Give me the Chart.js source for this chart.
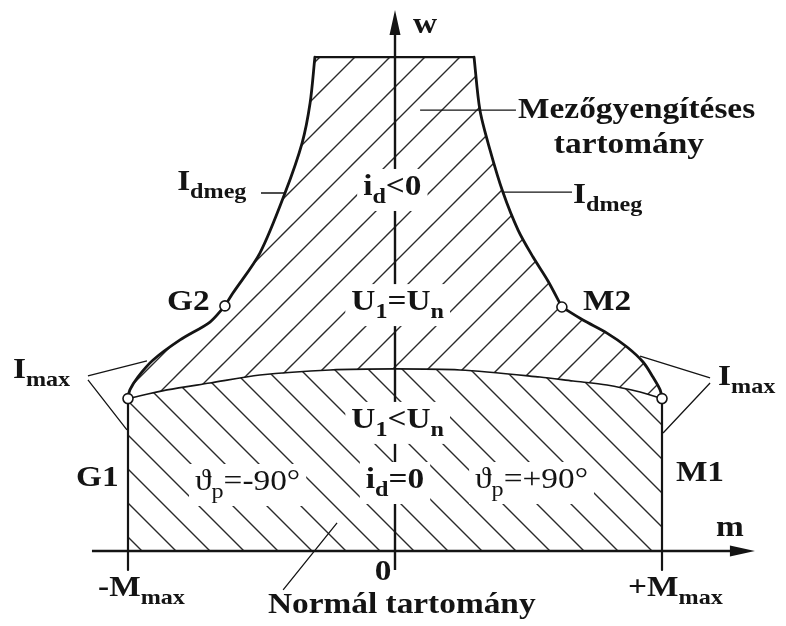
<!DOCTYPE html>
<html>
<head>
<meta charset="utf-8">
<script src="https://cdn.jsdelivr.net/npm/chart.js@4.4.1/dist/chart.umd.min.js"></script>
<style>
  html, body { margin: 0; padding: 0; background: #fff; }
  canvas { display: block; }
</style>
</head>
<body>
<canvas id="c" width="786" height="626"></canvas>
<script>
// Operating region of the drive: torque m in units of Mmax, speed w in units of base speed.

// upper limit (maximum speed)
const topEdge = [{x: -0.300, y: 2.729}, {x: 0.296, y: 2.729}];
// field-weakening current limit, left side (top -> G2)
const idmegLeft = [
  {x: -0.300, y: 2.729}, {x: -0.318, y: 2.475}, {x: -0.348, y: 2.254},
  {x: -0.412, y: 1.978}, {x: -0.506, y: 1.646}, {x: -0.607, y: 1.425},
  {x: -0.637, y: 1.354}
];
// maximum current limit, left side (G2 -> G1)
const imaxLeft = [
  {x: -0.637, y: 1.354}, {x: -0.693, y: 1.265}, {x: -0.805, y: 1.166},
  {x: -0.906, y: 1.055}, {x: -0.963, y: 0.961}, {x: -0.993, y: 0.890},
  {x: -1.000, y: 0.842}
];
// field-weakening current limit, right side (top -> M2)
const idmegRight = [
  {x: 0.296, y: 2.729}, {x: 0.318, y: 2.436}, {x: 0.356, y: 2.215},
  {x: 0.404, y: 1.983}, {x: 0.461, y: 1.773}, {x: 0.517, y: 1.624},
  {x: 0.573, y: 1.492}, {x: 0.625, y: 1.348}
];
// maximum current limit, right side (M2 -> M1)
const imaxRight = [
  {x: 0.625, y: 1.348}, {x: 0.704, y: 1.276}, {x: 0.794, y: 1.204},
  {x: 0.869, y: 1.127}, {x: 0.929, y: 1.044}, {x: 0.966, y: 0.961},
  {x: 0.993, y: 0.890}, {x: 1.000, y: 0.842}
];
// U1 = Un boundary between the two regions (G1 -> M1)
const voltageArch = [
  {x: -1.000, y: 0.842}, {x: -0.854, y: 0.890}, {x: -0.693, y: 0.928},
  {x: -0.506, y: 0.972}, {x: -0.243, y: 1.000}, {x: 0.000, y: 1.006},
  {x: 0.243, y: 1.000}, {x: 0.543, y: 0.961}, {x: 0.667, y: 0.939},
  {x: 0.794, y: 0.917}, {x: 0.918, y: 0.878}, {x: 1.000, y: 0.842}
];
// torque limits ±Mmax below the corner points
const sideLeft = [{x: -1, y: 0.842}, {x: -1, y: -0.105}];
const sideRight = [{x: 1, y: 0.842}, {x: 1, y: -0.105}];
const baseEdge = [{x: 1, y: 0}, {x: -1, y: 0}];
// corner points G1, G2, M2, M1
const cornerPoints = [
  {x: -1.000, y: 0.842}, {x: -0.637, y: 1.354},
  {x: 0.625, y: 1.348}, {x: 1.000, y: 0.842}
];

// closed outlines of the hatched regions
const weakeningRegion = [].concat(
  topEdge, idmegRight.slice(1), imaxRight.slice(1),
  voltageArch.slice().reverse().slice(1), imaxLeft.slice().reverse().slice(1),
  idmegLeft.slice().reverse().slice(1, -1)
);
const normalRegion = [].concat(voltageArch, baseEdge);

// annotation text: each entry is a list of [text, isSubscript] runs
const labels = [
  {p: [['w']], m: 0.067, w: 2.862},
  {p: [['m']], m: 1.202, w: 0.083},
  {p: [['0']], m: -0.045, w: -0.160, align: 'center'},
  {p: [['-M'], ['max', 1]], m: -1.112, w: -0.249},
  {p: [['+M'], ['max', 1]], m: 0.873, w: -0.249},
  {p: [['Normál tartomány']], m: -0.476, w: -0.343},
  {p: [['G1']], m: -1.195, w: 0.359},
  {p: [['M1']], m: 1.052, w: 0.387},
  {p: [['G2']], m: -0.854, w: 1.331},
  {p: [['M2']], m: 0.704, w: 1.331},
  {p: [['I'], ['max', 1]], m: -1.431, w: 0.956},
  {p: [['I'], ['max', 1]], m: 1.210, w: 0.917},
  {p: [['I'], ['dmeg', 1]], m: -0.816, w: 1.994},
  {p: [['I'], ['dmeg', 1]], m: 0.667, w: 1.923},
  {p: [['Mezőgyengítéses']], m: 0.461, w: 2.392},
  {p: [['tartomány']], m: 0.876, w: 2.199, align: 'center'},
  {p: [['i'], ['d', 1], ['<0']], m: -0.01, w: 1.967, align: 'center', bg: true},
  {p: [['U'], ['1', 1], ['=U'], ['n', 1]], m: 0.01, w: 1.331, align: 'center', bg: true},
  {p: [['U'], ['1', 1], ['<U'], ['n', 1]], m: 0.01, w: 0.680, align: 'center', bg: true},
  {p: [['i'], ['d', 1], ['=0']], m: 0.0, w: 0.348, align: 'center', bg: true},
  {p: [['ϑ'], ['p', 1], ['=-90°']], m: -0.749, w: 0.337, weight: 'normal', bg: true},
  {p: [['ϑ'], ['p', 1], ['=+90°']], m: 0.300, w: 0.348, weight: 'normal', bg: true}
];

// leader lines from labels to the curves
const leaders = [
  [[0.094, 2.436], [0.453, 2.436]],
  [[-0.419, -0.215], [-0.217, 0.155]],
  [[-1.150, 0.967], [-0.929, 1.050]],
  [[-1.150, 0.945], [-1.004, 0.669]],
  [[1.180, 0.956], [0.918, 1.077]],
  [[1.180, 0.928], [1.004, 0.652]],
  [[-0.502, 1.978], [-0.412, 1.978]],
  [[0.404, 1.983], [0.663, 1.983]]
];

// axes: m from left end to arrow tip, w from below the origin to arrow tip
const mAxis = {from: -1.135, to: 1.348};
const wAxis = {from: -0.105, to: 2.989};

const INK = '#141414';
const FONT = "'Liberation Serif', 'Times New Roman', 'DejaVu Serif', serif";
const MAIN_PX = 29, SUB_PX = 21, SUB_DROP = 8, STRETCH = 1.15;

function hatch(size, rising, offset) {
  const c = document.createElement('canvas');
  c.width = size; c.height = size;
  const g = c.getContext('2d');
  g.strokeStyle = '#2a2a2a';
  g.lineWidth = 1.4;
  g.beginPath();
  for (let k = -3; k <= 3; k++) {
    const c0 = offset + k * size;
    if (rising) { g.moveTo(c0 + size, -size); g.lineTo(c0 - 2 * size, 2 * size); }
    else { g.moveTo(c0 - size, -size); g.lineTo(c0 + 2 * size, 2 * size); }
  }
  g.stroke();
  return g.createPattern(c, 'repeat');
}
const ctx0 = document.getElementById('c').getContext('2d');
const risingHatch = hatch(35, true, 27);
const fallingHatch = hatch(34, false, 33);

function outline(data, width, tension) {
  return {data, borderColor: INK, borderWidth: width, pointRadius: 0,
          tension, fill: false, order: 1, borderCapStyle: 'round', borderJoinStyle: 'round'};
}

const annotations = {
  id: 'annotations',
  afterDatasetsDraw(chart) {
    const ctx = chart.ctx;
    const xs = chart.scales.x, ys = chart.scales.y;
    const px = v => xs.getPixelForValue(v), py = v => ys.getPixelForValue(v);
    ctx.save();
    ctx.strokeStyle = INK;
    ctx.fillStyle = INK;
    // axes
    ctx.lineWidth = 2.4;
    const x0 = px(0), y0 = py(0);
    const hx = px(mAxis.to), vy = py(wAxis.to);
    ctx.beginPath();
    ctx.moveTo(px(mAxis.from), y0); ctx.lineTo(hx - 22, y0);
    ctx.moveTo(x0, py(wAxis.from)); ctx.lineTo(x0, vy + 22);
    ctx.stroke();
    ctx.beginPath();
    ctx.moveTo(hx, y0); ctx.lineTo(hx - 25, y0 - 5.5); ctx.lineTo(hx - 25, y0 + 5.5); ctx.closePath();
    ctx.moveTo(x0, vy); ctx.lineTo(x0 - 5.5, vy + 25); ctx.lineTo(x0 + 5.5, vy + 25); ctx.closePath();
    ctx.fill();
    // leaders
    ctx.lineWidth = 1.3;
    ctx.beginPath();
    leaders.forEach(([a, b]) => { ctx.moveTo(px(a[0]), py(a[1])); ctx.lineTo(px(b[0]), py(b[1])); });
    ctx.stroke();
    // corner markers on top
    ctx.lineWidth = 1.6;
    cornerPoints.forEach(p => {
      ctx.beginPath();
      ctx.arc(px(p.x), py(p.y), 5, 0, Math.PI * 2);
      ctx.fillStyle = '#fff'; ctx.fill(); ctx.stroke();
    });
    // labels
    ctx.textBaseline = 'alphabetic';
    labels.forEach(l => {
      const weight = l.weight || 'bold';
      const runs = l.p.map(([t, sub]) => {
        ctx.font = `${weight} ${sub ? SUB_PX : MAIN_PX}px ${FONT}`;
        return {t, sub, w: ctx.measureText(t).width * STRETCH, font: ctx.font};
      });
      const total = runs.reduce((s, r) => s + r.w, 0);
      let x = px(l.m);
      const y = py(l.w);
      if (l.align === 'center') x -= total / 2;
      if (l.bg) {
        ctx.fillStyle = '#fff';
        ctx.fillRect(x - 6, y - 26, total + 12, 42);
      }
      ctx.fillStyle = INK;
      runs.forEach(r => {
        ctx.save();
        ctx.font = r.font;
        ctx.translate(x, y + (r.sub ? SUB_DROP : 0));
        ctx.scale(STRETCH, 1);
        ctx.fillText(r.t, 0, 0);
        ctx.restore();
        x += r.w;
      });
    });
    ctx.restore();
  }
};

new Chart(ctx0, {
  type: 'line',
  data: {
    datasets: [
      {data: weakeningRegion, fill: 'shape', backgroundColor: risingHatch, borderWidth: 0, pointRadius: 0, tension: 0, order: 3},
      {data: normalRegion, fill: 'shape', backgroundColor: fallingHatch, borderWidth: 0, pointRadius: 0, tension: 0, order: 3},
      outline(voltageArch, 1.6, 0.3),
      outline(topEdge, 2.2, 0),
      outline(idmegLeft, 2.8, 0.3),
      outline(imaxLeft, 2.8, 0.3),
      outline(idmegRight, 2.8, 0.3),
      outline(imaxRight, 2.8, 0.3),
      outline(sideLeft, 2.2, 0),
      outline(sideRight, 2.2, 0)
    ]
  },
  options: {
    responsive: false,
    animation: false,
    events: [],
    layout: {padding: 0},
    scales: {
      x: {type: 'linear', min: -1.4794, max: 1.4644, display: false},
      y: {type: 'linear', min: -0.4144, max: 3.0442, display: false}
    },
    plugins: {legend: {display: false}, tooltip: {enabled: false}}
  },
  plugins: [annotations]
});
</script>
</body>
</html>
